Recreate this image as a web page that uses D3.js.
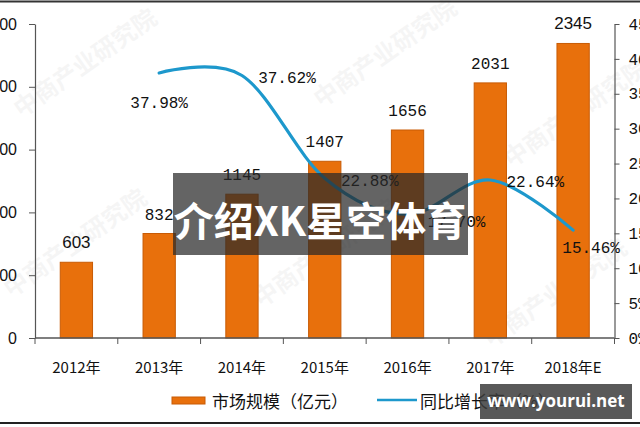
<!DOCTYPE html>
<html><head><meta charset="utf-8">
<script src="https://cdn.jsdelivr.net/npm/d3@7"></script>
<style>
html,body{margin:0;padding:0;background:#fff;overflow:hidden}
svg{display:block}
</style></head>
<body>
<svg id="c" width="640" height="427"></svg>
<script>
const categories = ["2012年","2013年","2014年","2015年","2016年","2017年","2018年E"];
const marketSize = [603, 832, 1145, 1407, 1656, 2031, 2345];
const growthCats = ["2013年","2014年","2015年","2016年","2017年","2018年E"];
const growthRate = [37.98, 37.62, 22.88, 17.70, 22.64, 15.46];
const leftTicks = [0, 500, 1000, 1500, 2000, 2500];
const rightTicks = [0, 5, 10, 15, 20, 25, 30, 35, 40, 45];
const seriesNames = ["市场规模（亿元）", "同比增长率（%）"];

// layout (not data)
const growthLabelOffsets = [[0,35],[45,8],[45,8],[49,13],[45,7],[18,23]];

(function(){
const svg = d3.select("#c");
const W = 640, H = 427;
const pLeft = 35, pRight = 614.5, pTop = 24, pBottom = 338;
const orange = "#e8700c", blue = "#1d98cc";
const mono = "'Liberation Mono','DejaVu Sans Mono',monospace";
const sans = "'Liberation Sans',Arial,'Noto Sans CJK SC',sans-serif";
const cjk = "'Noto Sans CJK SC','Liberation Sans',sans-serif";

// frame lines
svg.append("line").attr("x1",0).attr("x2",W).attr("y1",1.5).attr("y2",1.5).attr("stroke","#333").attr("stroke-width",2);
svg.append("line").attr("x1",0).attr("x2",W).attr("y1",423).attr("y2",423).attr("stroke","#222").attr("stroke-width",2);

// faint watermarks
const wm = [[90,70],[390,60],[580,120],[80,250],[330,260],[560,300]];
wm.forEach(([x,y])=>{
  svg.append("text").attr("x",x).attr("y",y).attr("transform",`rotate(-35,${x},${y})`)
    .attr("font-family",cjk).attr("font-size",24).attr("font-weight","bold")
    .attr("fill","#000").attr("opacity",0.035).attr("text-anchor","middle").text("中商产业研究院");
});

const x = d3.scaleBand().domain(categories).range([pLeft, pRight]);
const yL = d3.scaleLinear().domain([0, 2500]).range([pBottom, pTop]);
const yR = d3.scaleLinear().domain([0, 45]).range([pBottom, pTop]);

// bars
const bw = x.bandwidth() * 0.39;
svg.append("g").selectAll("rect").data(marketSize).join("rect")
  .attr("x", (d,i)=> x(categories[i]) + x.bandwidth()/2 - bw/2)
  .attr("y", d=> yL(d))
  .attr("width", bw)
  .attr("height", d=> pBottom - yL(d))
  .attr("fill", orange).attr("stroke","#c85b05").attr("stroke-width",1);

// bar labels
svg.append("g").selectAll("text").data(marketSize).join("text")
  .attr("x", (d,i)=> x(categories[i]) + x.bandwidth()/2)
  .attr("y", d=> yL(d) - 14)
  .attr("text-anchor","middle")
  .attr("font-family", (d,i)=> (i===0||i===6)? sans : mono)
  .attr("font-size", (d,i)=> (i===0||i===6)? 17 : 16)
  .attr("fill","#111")
  .text(d=>d);

// left axis
const axL = d3.axisLeft(yL).tickValues(leftTicks).tickSize(6).tickPadding(12).tickSizeOuter(0);
const gL = svg.append("g").attr("transform",`translate(${pLeft},0)`).call(axL);
gL.select(".domain").attr("stroke","#555").attr("stroke-width",1.2);
gL.selectAll(".tick line").attr("stroke","#555");
gL.selectAll("text").attr("font-family",sans).attr("font-size",16).attr("fill","#111");

// right axis
const axR = d3.axisRight(yR).tickValues(rightTicks).tickFormat(d=>d+"%").tickSize(5).tickPadding(9).tickSizeOuter(0);
const gR = svg.append("g").attr("transform",`translate(${pRight},0)`).call(axR);
gR.select(".domain").attr("stroke","#555").attr("stroke-width",1.2);
gR.selectAll(".tick line").attr("stroke","#555");
gR.selectAll("text").attr("font-family",mono).attr("font-size",16).attr("fill","#111");

// x axis
const gX = svg.append("g").attr("transform",`translate(0,${pBottom})`);
gX.append("line").attr("x1",pLeft).attr("x2",pRight).attr("stroke","#555").attr("stroke-width",1.5);
const bounds = categories.map(c=>x(c)).concat([x(categories[categories.length-1]) + x.bandwidth()]);
gX.selectAll("line.tk").data(bounds).join("line").attr("class","tk")
  .attr("x1",d=>d).attr("x2",d=>d).attr("y1",0).attr("y2",6).attr("stroke","#555");
gX.selectAll("text").data(categories).join("text")
  .attr("x", d=> x(d) + x.bandwidth()/2).attr("y", 35)
  .attr("text-anchor","middle").attr("font-family",cjk).attr("font-size",15).attr("fill","#111")
  .text(d=>d);

// growth line
const line = d3.line()
  .x((d,i)=> x(growthCats[i]) + x.bandwidth()/2)
  .y(d=> yR(d))
  .curve(d3.curveCardinal.tension(0));
svg.append("path").datum(growthRate).attr("d", line)
  .attr("fill","none").attr("stroke", blue).attr("stroke-width",3.2).attr("stroke-linecap","round");

svg.append("g").selectAll("text").data(growthRate).join("text")
  .attr("x", (d,i)=> x(growthCats[i]) + x.bandwidth()/2 + growthLabelOffsets[i][0])
  .attr("y", (d,i)=> yR(d) + growthLabelOffsets[i][1])
  .attr("text-anchor","middle").attr("font-family",mono).attr("font-size",16).attr("fill","#111")
  .text(d=> d.toFixed(2) + "%");

// legend
const lg = svg.append("g");
lg.append("rect").attr("x",172).attr("y",397).attr("width",33).attr("height",7).attr("fill",orange).attr("stroke","#c85b05");
lg.append("text").attr("x",212).attr("y",408).attr("font-family",cjk).attr("font-size",17).attr("fill","#111").text(seriesNames[0]);
lg.append("line").attr("x1",377).attr("x2",417).attr("y1",400).attr("y2",400).attr("stroke",blue).attr("stroke-width",2.5);
lg.append("text").attr("x",420).attr("y",408).attr("font-family",cjk).attr("font-size",17).attr("fill","#111").text(seriesNames[1]);

// overlay banners
svg.append("rect").attr("x",173).attr("y",173).attr("width",295).attr("height",82).attr("fill","rgb(40,40,40)").attr("opacity",0.72);
svg.append("text").attr("x",320).attr("y",236).attr("text-anchor","middle")
  .attr("font-family",cjk).attr("font-weight","bold").attr("font-size",40).attr("fill","#fff").text("介绍XK星空体育");
svg.append("rect").attr("x",480).attr("y",384).attr("width",152).attr("height",35).attr("fill","rgb(60,60,60)").attr("opacity",0.85);
svg.append("text").attr("x",556).attr("y",407).attr("text-anchor","middle")
  .attr("font-family","'Open Sans','Noto Sans',sans-serif").attr("font-weight","bold").attr("font-size",17).attr("fill","#fff").text("www.yourui.net");
})();
</script>
</body></html>
